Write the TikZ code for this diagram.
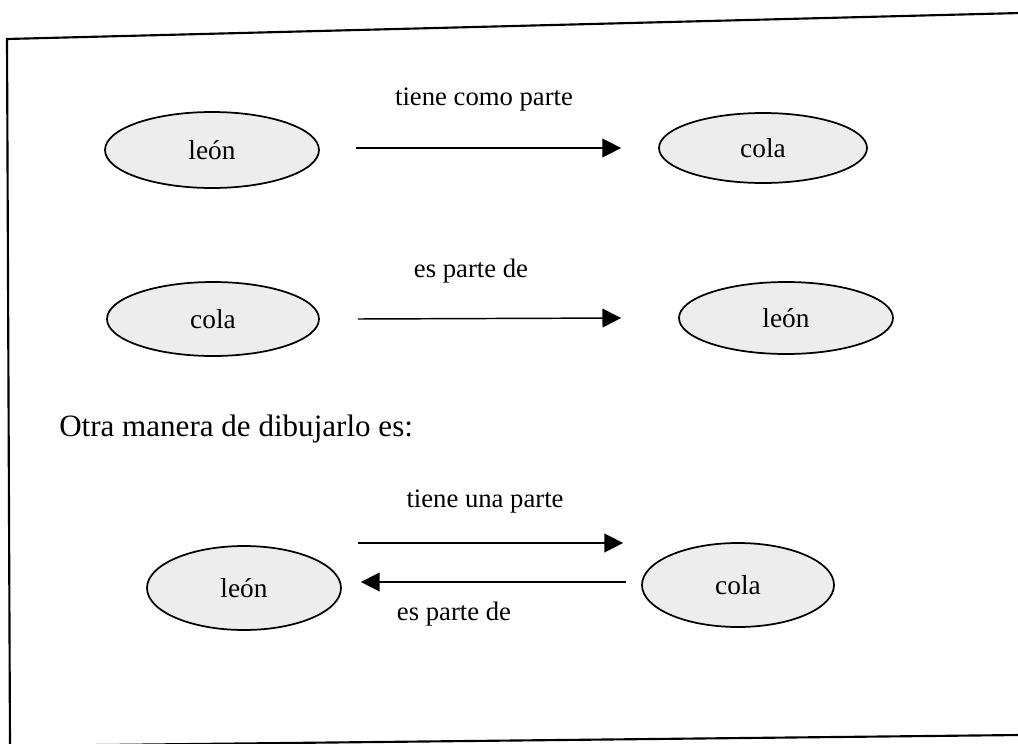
\documentclass[tikz,border=0pt]{standalone}
\usepackage{fontspec}
\setmainfont{Liberation Serif}
\usetikzlibrary{shapes.geometric,arrows.meta,calc}
\begin{document}
\begin{tikzpicture}[x=0.75pt,y=-0.75pt,
  concept/.style={ellipse,draw=black,line width=1.3pt,fill=gray!14,inner sep=0pt,
    font=\fontsize{20.5}{24}\selectfont},
  rel/.style={-{Triangle[length=14pt,width=14pt]},line width=1.1pt},
  lbl/.style={anchor=base,inner sep=0pt,font=\fontsize{20}{24}\selectfont},
  frame/.style={line width=1.6pt,line join=miter}]
\useasboundingbox (0,0) rectangle (1018,743);

% slightly skewed outer frame
\draw[frame] (1020,13) -- (7,39) -- (10,746) -- (1020,735);

% first pair
\node[concept,minimum width=160.5pt,minimum height=57pt] (l1) at (212,150) {león};
\node[concept,minimum width=156pt,minimum height=52.5pt] (c1) at (763,148) {cola};
\draw[rel] ($(l1.east)+(36,-2)$) -- ($(c1.west)+(-37,0)$);
\node[lbl] (t1) at (484,105) {tiene como parte};

% second pair
\node[concept,minimum width=159pt,minimum height=55.5pt] (c2) at (213,319) {cola};
\node[concept,minimum width=160.5pt,minimum height=54pt] (l2) at (786,318) {león};
\draw[rel] ($(c2.east)+(38,0)$) -- ($(l2.west)+(-57,0)$);
\node[lbl] (t2) at (471,277) {es parte de};

\node[anchor=base west,inner sep=0pt,font=\fontsize{23.3}{28}\selectfont] (otra) at (59,436)
  {Otra manera de dibujarlo es:};

% two-way relation
\node[concept,minimum width=145.5pt,minimum height=63pt] (l3) at (244,588) {león};
\node[concept,minimum width=144pt,minimum height=63pt] (c3) at (738,585) {cola};
\draw[rel] ($(l3.east)+(16,-45)$) -- ($(c3.west)+(-18,-42)$);
\draw[rel] ($(c3.west)+(-15,-3)$) -- ($(l3.east)+(19,-6)$);
\node[lbl] (t3) at (485,507) {tiene una parte};
\node[lbl] (t4) at (454,620) {es parte de};
\end{tikzpicture}
\end{document}
